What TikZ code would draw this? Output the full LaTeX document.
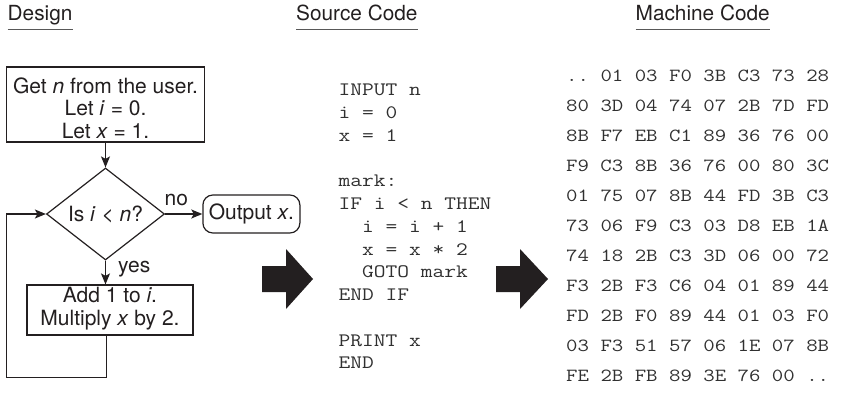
\documentclass[tikz,border=0pt]{standalone}
\usepackage{fontspec}
\usepackage{graphicx}
\setmainfont{TeX Gyre Heros}
\usetikzlibrary{shapes.geometric,arrows.meta}
\definecolor{ink}{HTML}{231F20}
\definecolor{codeink}{HTML}{303030}
\definecolor{ulgray}{HTML}{585858}
\frenchspacing
\begin{document}
\begin{tikzpicture}[x=1pt,y=-1pt,
  sans/.style={font=\fontsize{21}{22.5}\selectfont, text=ink},
  heading/.style={font=\fontsize{20.8}{24}\selectfont, text=ink, inner sep=0pt, anchor=base west},
  uline/.style={draw=ulgray, line width=1.6pt},
  boxshape/.style={draw=ink, line width=1.2pt, inner sep=0pt},
  flow/.style={draw=ink, line width=1.2pt, -{Stealth[length=11pt,width=9pt,inset=2.5pt]}},
  lbl/.style={sans, inner sep=0pt},
  scode/.style={font=\ttfamily\fontsize{19}{22}\selectfont, text=codeink, inner sep=0pt, anchor=base west},
  mcode/.style={font=\ttfamily\fontsize{18.5}{22}\selectfont, text=codeink, inner sep=0pt, anchor=base west},
  bigarrow/.style={fill=ink}
]
\useasboundingbox (0,0) rectangle (844,393);

% headings
\node[heading] (hdes) at (7.5,21) {Design};
\node[heading] (hsrc) at (296,21) {Source Code};
\node[heading] (hmc) at (635.5,21) {Machine Code};
\draw[uline] ([yshift=-8.5pt]hdes.base west) -- ([yshift=-8.5pt]hdes.base east);
\draw[uline] ([yshift=-8.5pt]hsrc.base west) -- ([yshift=-8.5pt]hsrc.base east);
\draw[uline] ([yshift=-8.5pt]hmc.base west) -- ([yshift=-8.5pt]hmc.base east);

% flowchart
\node[boxshape, minimum width=198pt, minimum height=75pt] (b1) at (105.5,104.5) {};
\node[lbl, align=center] (b1t) at (105.5,108) {Get \textit{n} from the user.\\Let \textit{i} = 0.\\Let \textit{x} = 1.};
\node[boxshape, diamond, minimum width=118pt, minimum height=78pt, sans] (dia) at (105.5,214) {Is \textit{i} < \textit{n}?};
\node[boxshape, rounded corners=10pt, minimum width=97pt, minimum height=38pt, sans] (out) at (251.4,214) {Output \textit{x}.};
\node[boxshape, minimum width=166pt, minimum height=50pt] (b2) at (110,310) {};
\node[lbl, align=center] (b2t) at (110,308.5) {Add 1 to \textit{i}.\\Multiply \textit{x} by 2.};

\draw[flow] (b1.south) -- (dia.north);
\draw[flow] (dia.east) -- node[lbl, anchor=base, pos=0.3, yshift=9pt] (lno) {no} (out.west);
\draw[flow] (dia.south) -- node[lbl, anchor=base west, pos=0.5, xshift=12pt] (lyes) {yes} (dia.south |- b2.north);
\coordinate (lb) at (6.7,377.7);
\draw[flow] ([xshift=-3.5pt]b2.south) |- (lb) |- (dia.west);

% big arrows
\fill[bigarrow] (262,266) -- (286,266) -- (286,249) -- (313,279) -- (286,309) -- (286,292) -- (262,292) -- cycle;
\fill[bigarrow] (496,266) -- (520,266) -- (520,249) -- (548,279) -- (520,309) -- (520,292) -- (496,292) -- cycle;

% source code
\node[scode] (s0) at (338.5,95.8) {\scalebox{1.2}[1]{INPUT n}};
\node[scode] (s1) at (338.5,118.55) {\scalebox{1.2}[1]{i = 0}};
\node[scode] (s2) at (338.5,141.3) {\scalebox{1.2}[1]{x = 1}};
\node[scode] (s4) at (338.5,186.8) {\scalebox{1.2}[1]{mark:}};
\node[scode] (s5) at (338.5,209.55) {\scalebox{1.2}[1]{IF i < n THEN}};
\node[scode] (s6) at (338.5,232.3) {\scalebox{1.2}[1]{\phantom{xx}i = i + 1}};
\node[scode] (s7) at (338.5,255.05) {\scalebox{1.2}[1]{\phantom{xx}x = x * 2}};
\node[scode] (s8) at (338.5,277.8) {\scalebox{1.2}[1]{\phantom{xx}GOTO mark}};
\node[scode] (s9) at (338.5,300.55) {\scalebox{1.2}[1]{END IF}};
\node[scode] (s11) at (338.5,346.05) {\scalebox{1.2}[1]{PRINT x}};
\node[scode] (s12) at (338.5,368.8) {\scalebox{1.2}[1]{END}};

% machine code
\foreach \r [count=\k from 0] in {
  {.. 01 03 F0 3B C3 73 28},
  {80 3D 04 74 07 2B 7D FD},
  {8B F7 EB C1 89 36 76 00},
  {F9 C3 8B 36 76 00 80 3C},
  {01 75 07 8B 44 FD 3B C3},
  {73 06 F9 C3 03 D8 EB 1A},
  {74 18 2B C3 3D 06 00 72},
  {F3 2B F3 C6 04 01 89 44},
  {FD 2B F0 89 44 01 03 F0},
  {03 F3 51 57 06 1E 07 8B},
  {FE 2B FB 89 3E 76 00 ..}}
  \node[mcode] (mc\k) at (566,81.7+30*\k) {\scalebox{1.2}[1]{\r}};
\end{tikzpicture}
\end{document}
